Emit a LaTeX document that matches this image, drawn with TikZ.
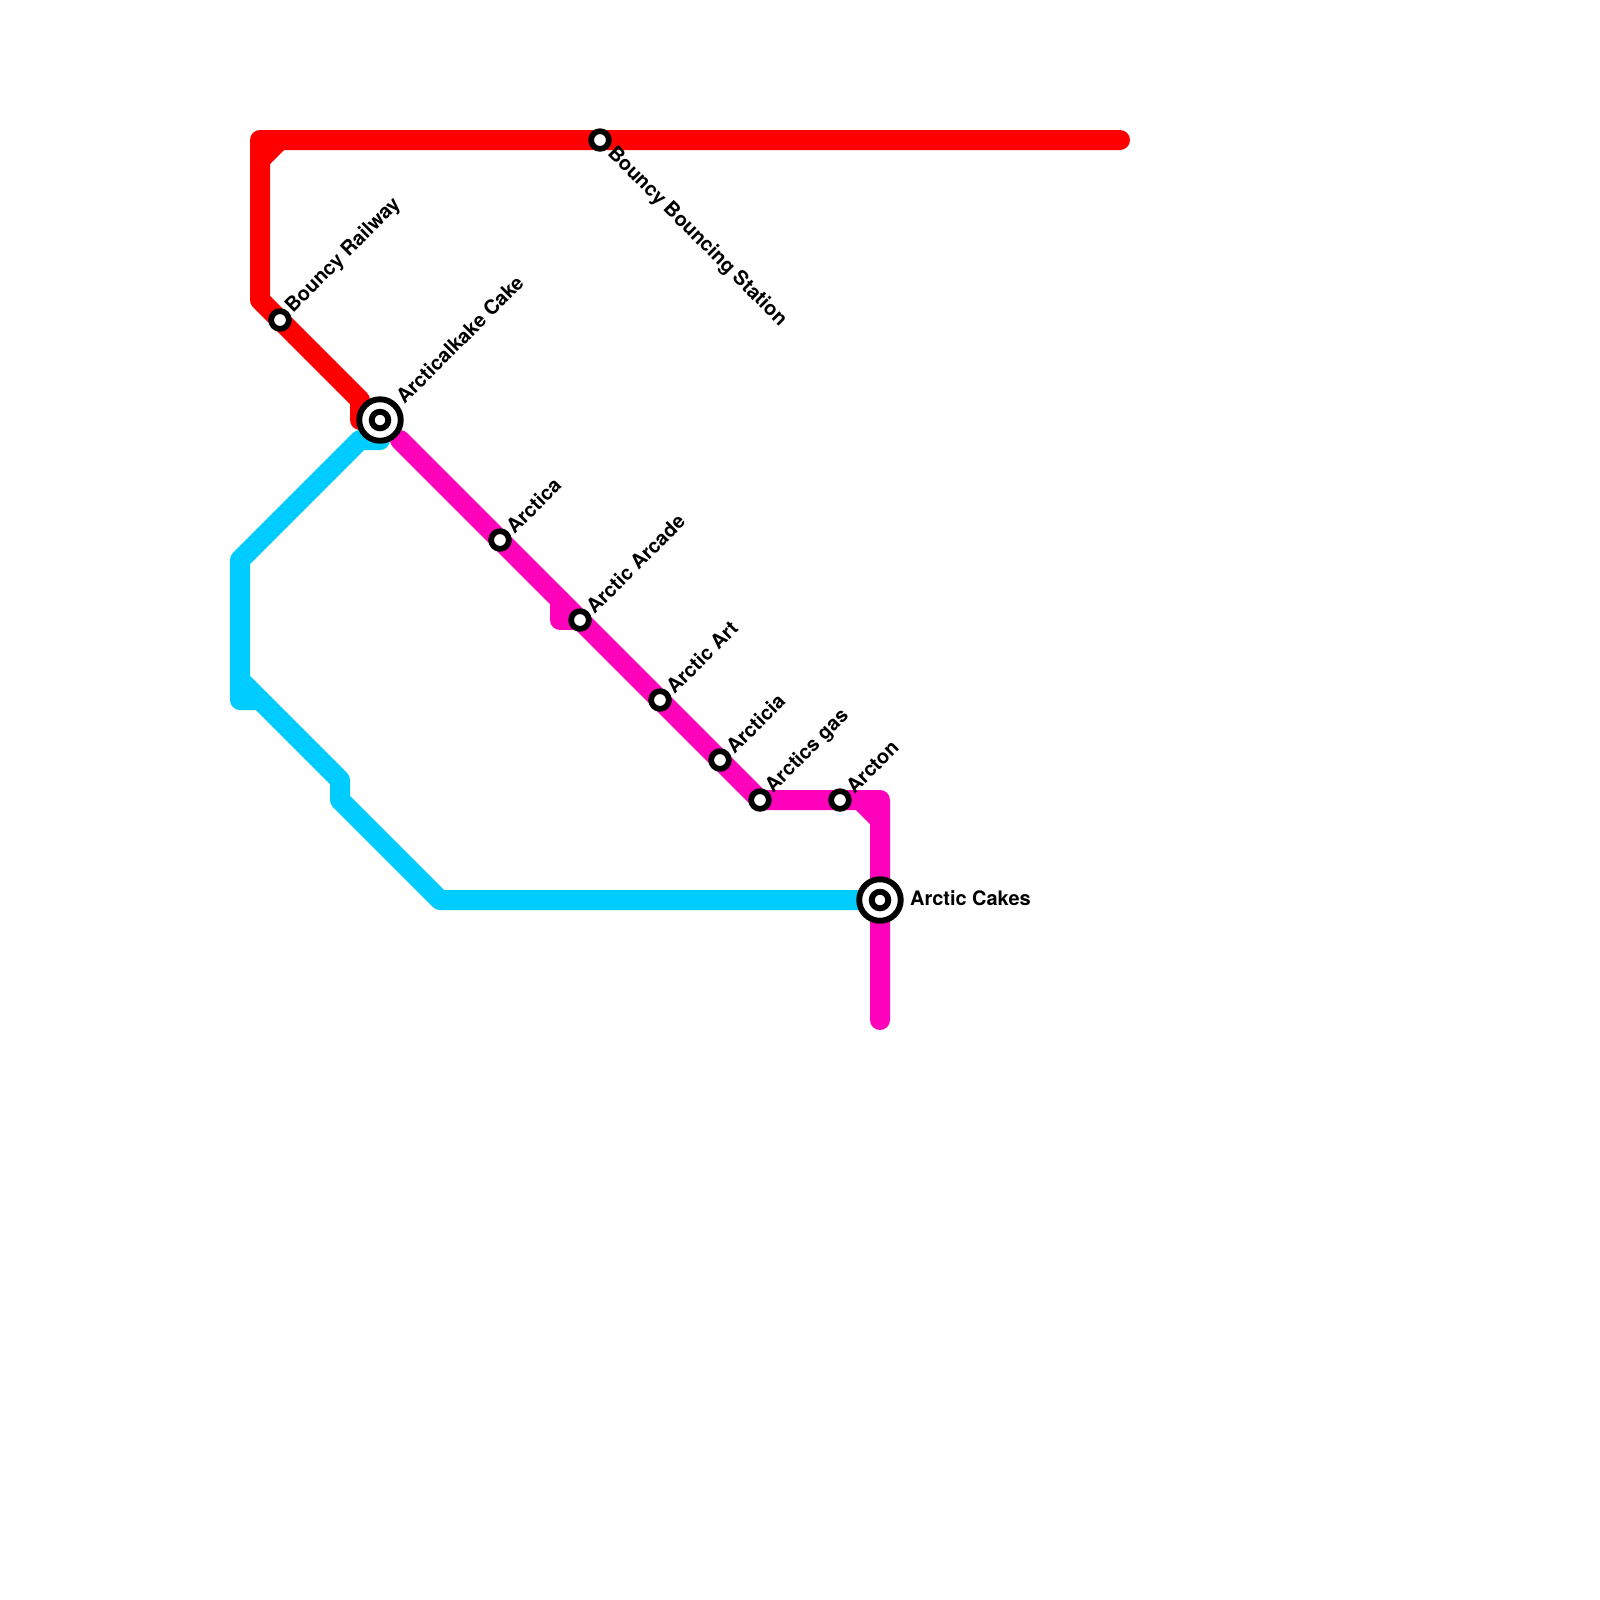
\documentclass[tikz,border=0pt]{standalone}
\usepackage{fontspec}
\setmainfont{TeX Gyre Heros}
\usepackage{tikz}
\definecolor{linered}{rgb}{1.,0.,0.}
\definecolor{lineblue}{rgb}{0.,0.8,1.}
\definecolor{linepink}{rgb}{1.,0.,0.7333}
\tikzset{
	railline/.style={line width=2mm,line cap=round,line join=round},
	stop/.style={circle,draw=black,fill=white,line width=0.57mm,minimum size=1.77mm,inner sep=0pt},
	hubring/.style={circle,draw=black,fill=white,line width=0.59mm,minimum size=4.15mm,inner sep=0pt},
	hubdot/.style={circle,draw=black,fill=white,line width=0.59mm,minimum size=1.66mm,inner sep=0pt},
	stoplabel/.style={anchor=west,inner sep=0pt,font=\fontsize{5.68pt}{7pt}\selectfont\bfseries}
}
\begin{document}
\begin{tikzpicture}[x=0.2cm,y=-0.2cm]
		\useasboundingbox (0,0) rectangle (80,80);
		% stations
		\coordinate (railway) at (14,16);
		\coordinate (cake) at (19,21);
		\coordinate (bouncing) at (30,7);
		\coordinate (arctica) at (25,27);
		\coordinate (arcade) at (29,31);
		\coordinate (art) at (33,35);
		\coordinate (arcticia) at (36,38);
		\coordinate (gas) at (38,40);
		\coordinate (arcton) at (42,40);
		\coordinate (cakes) at (44,45);
		% red line
		\coordinate (redend) at (56,7);
		\coordinate (redcorner) at (13,7);
		\coordinate (redcutA) at (14,7);
		\coordinate (redcutB) at (13,8);
		\coordinate (redbend) at (13,15);
		\coordinate (redstepA) at (18,20);
		\coordinate (redstepB) at (18,21);
		\draw [railline,color=linered] (redend) -- (bouncing) -- (redcorner) -- (redbend) -- (railway) -- (redstepA) -- (redstepB) -- (cake);
		\draw [railline,color=linered] (redcutA) -- (redcutB);
		% blue line
		\coordinate (blueA) at (19,22);
		\coordinate (blueB) at (18,22);
		\coordinate (blueC) at (12,28);
		\coordinate (blueD) at (12,35);
		\coordinate (blueE) at (13,35);
		\coordinate (blueF) at (12,34);
		\coordinate (blueG) at (17,39);
		\coordinate (blueH) at (17,40);
		\coordinate (blueJ) at (22,45);
		\draw [railline,color=lineblue] (cake) -- (blueA) -- (blueB) -- (blueC) -- (blueD) -- (blueE) -- (blueG) -- (blueH) -- (blueJ) -- (cakes);
		\draw [railline,color=lineblue] (blueF) -- (blueE);
		% pink line
		\coordinate (pinkstart) at (20,22);
		\coordinate (pinkstepA) at (28,30);
		\coordinate (pinkstepB) at (28,31);
		\coordinate (pinkcorner) at (44,40);
		\coordinate (pinkcutA) at (43,40);
		\coordinate (pinkcutB) at (44,41);
		\coordinate (pinkend) at (44,51);
		\draw [railline,color=linepink] (pinkstart) -- (arctica) -- (arcade) -- (art) -- (arcticia) -- (gas) -- (arcton) -- (pinkcorner) -- (cakes) -- (pinkend);
		\draw [railline,color=linepink] (pinkstepA) -- (pinkstepB) -- (arcade);
		\draw [railline,color=linepink] (pinkcutA) -- (pinkcutB);
		% stops
		\node (stopRailway) [stop] at (railway) {};
		\node (stopBouncing) [stop] at (bouncing) {};
		\node (stopArctica) [stop] at (arctica) {};
		\node (stopArcade) [stop] at (arcade) {};
		\node (stopArt) [stop] at (art) {};
		\node (stopArcticia) [stop] at (arcticia) {};
		\node (stopGas) [stop] at (gas) {};
		\node (stopArcton) [stop] at (arcton) {};
		\node (hubCakeOuter) [hubring] at (cake) {};
		\node (hubCakeInner) [hubdot] at (cake) {};
		\node (hubCakesOuter) [hubring] at (cakes) {};
		\node (hubCakesInner) [hubdot] at (cakes) {};
		% labels
		\node (lblRailway) [stoplabel,rotate=45] at (14.45,15.5) {Bouncy Railway};
		\node (lblCake) [stoplabel,rotate=45] at (19.95,20) {Arcticalkake Cake};
		\node (lblBouncing) [stoplabel,rotate=-45] at (30.5,7.5) {Bouncy Bouncing Station};
		\node (lblArctica) [stoplabel,rotate=45] at (25.45,26.5) {Arctica};
		\node (lblArcade) [stoplabel,rotate=45] at (29.45,30.5) {Arctic Arcade};
		\node (lblArt) [stoplabel,rotate=45] at (33.45,34.5) {Arctic Art};
		\node (lblArcticia) [stoplabel,rotate=45] at (36.45,37.5) {Arcticia};
		\node (lblGas) [stoplabel,rotate=45] at (38.45,39.5) {Arctics gas};
		\node (lblArcton) [stoplabel,rotate=45] at (42.45,39.5) {Arcton};
		\node (lblCakes) [stoplabel] at (45.47,44.9) {Arctic Cakes};
\end{tikzpicture}
\end{document}
